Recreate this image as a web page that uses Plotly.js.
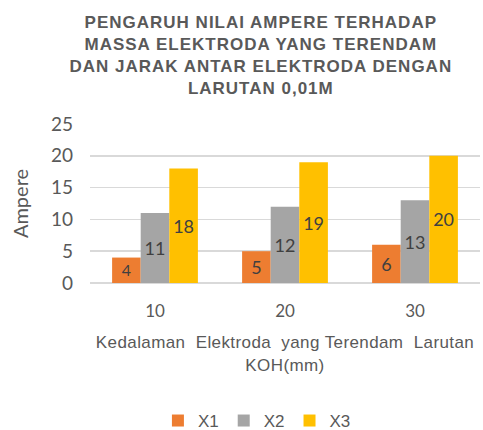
<!DOCTYPE html>
<html><head><meta charset="utf-8">
<script src="https://cdn.plot.ly/plotly-3.0.1.min.js"></script>
<style>html,body{margin:0;padding:0;background:#fff}#chart{width:483px;height:430px}
.gtitle{letter-spacing:1px}
.g-xtitle text{letter-spacing:0.4px}
</style>
</head><body><div id="chart"></div>
<script>
const categories = ["10", "20", "30"];
const seriesNames = ["X1", "X2", "X3"];
const x1 = [4, 5, 6];
const x2 = [11, 12, 13];
const x3 = [18, 19, 20];
const colors = ["#ED7D31", "#A5A5A5", "#FFC000"];
const values = [x1, x2, x3];

const traces = values.map((v, i) => ({
  type: "bar",
  name: seriesNames[i],
  x: categories,
  y: v,
  text: v.map(String),
  textposition: "inside",
  insidetextanchor: "middle",
  textangle: 0,
  textfont: {family: "Lato, 'Liberation Sans', sans-serif", size: 18, color: "#404040"},
  marker: {color: colors[i]},
  hoverinfo: "none"
}));

const layout = {
  width: 483, height: 430,
  margin: {l: 90, r: 3, t: 124, b: 147, autoexpand: false},
  paper_bgcolor: "#fff", plot_bgcolor: "#fff",
  barmode: "group",
  bargap: 0.34, bargroupgap: 0,
  title: {
    text: "PENGARUH NILAI AMPERE TERHADAP<br>MASSA ELEKTRODA YANG TERENDAM<br>DAN JARAK ANTAR ELEKTRODA DENGAN<br>LARUTAN 0,01M",
    font: {family: "'Liberation Sans', Arial, sans-serif", size: 17, color: "#595959", weight: "bold"},
    x: 0.54, xanchor: "center", y: 0.935, yanchor: "middle", yref: "container"
  },
  xaxis: {
    type: "category",
    tickfont: {family: "Lato, 'Liberation Sans', sans-serif", size: 17, color: "#595959"},
    showgrid: false, showline: false, ticks: "",
    ticklabelstandoff: 16,
    title: {text: "Kedalaman  Elektroda  yang Terendam  Larutan<br>KOH(mm)",
      font: {family: "'Liberation Sans', Arial, sans-serif", size: 17, color: "#595959"}, standoff: 16}
  },
  yaxis: {
    range: [0, 25], dtick: 5,
    tickfont: {family: "Lato, 'Liberation Sans', sans-serif", size: 19, color: "#595959"},
    gridcolor: "#D9D9D9", gridwidth: 1.5, zeroline: true, zerolinecolor: "#D9D9D9", zerolinewidth: 1.5,
    showline: false, ticks: "", ticklen: 0,
    ticklabelstandoff: 16,
    title: {text: "Ampere", font: {family: "Lato, 'Liberation Sans', sans-serif", size: 20, color: "#595959"}, standoff: 16}
  },
  showlegend: true,
  legend: {
    orientation: "h", x: 0.428, xanchor: "center", yref: "container", y: 0.021, yanchor: "middle",
    font: {family: "'Liberation Sans', Arial, sans-serif", size: 17, color: "#595959"},
    itemwidth: 30, traceorder: "normal"
  }
};
Plotly.newPlot("chart", traces, layout, {displayModeBar: false, staticPlot: true});
</script></body></html>
